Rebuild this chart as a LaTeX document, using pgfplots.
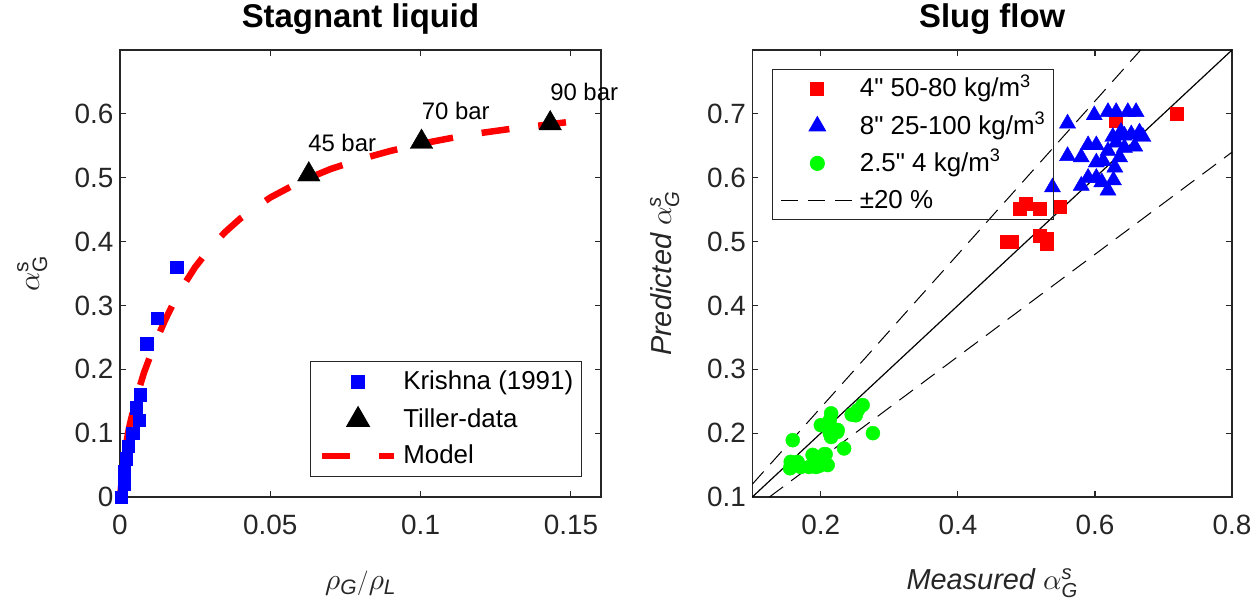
\documentclass[border=0pt]{standalone}
\usepackage{fontspec}
\setmainfont{Liberation Sans}[Ligatures=TeXOff]
\usepackage{amsmath}
\DeclareFontShape{OML}{cmm}{m}{it}{<->cmmi10}{}
\DeclareFontShape{OMS}{cmsy}{m}{n}{<->cmsy10}{}
\usepackage{pgfplots}
\pgfplotsset{compat=1.18}
\definecolor{axc}{RGB}{38,38,38}
\definecolor{mblue}{RGB}{0,0,255}
\definecolor{mred}{RGB}{255,0,0}
\definecolor{mgreen}{RGB}{0,255,0}
\pgfplotsset{
  mystyle/.style={
    scale only axis, clip=false,
    axis line style={axc, line width=1.1bp},
    tick style={axc, line width=1.1bp},
    tick align=inside, tick pos=both, major tick length=6bp,
    ticklabel style={font=\fontsize{28}{28}\selectfont, text=axc},
    xticklabel style={yshift=-15bp},
    yticklabel style={xshift=-3bp},
    label style={font=\fontsize{29}{29}\selectfont, text=axc},
    title style={font=\bfseries\fontsize{33}{33}\selectfont, anchor=base},
    legend cell align=left,
    legend image code/.code={\draw[mark repeat=2,mark phase=2,#1] plot coordinates {(0bp,0bp) (36bp,0bp) (72bp,0bp)};},
    legend style={font=\fontsize{26}{26}\selectfont, text=black, draw=axc, line width=1.1bp,
      fill=none, inner xsep=8bp,
      nodes={inner sep=0pt, text height=19bp, text depth=3bp},
      /tikz/every odd column/.append style={column sep=6bp}},
  }
}
\begin{document}
\begin{tikzpicture}
\path[use as bounding box] (0,0) rectangle (1260bp,606bp);
% ---------------- left axis
\begin{axis}[mystyle, at={(120bp,109bp)}, anchor=south west, width=481bp, height=447bp,
  xmin=0, xmax=0.16, ymin=0, ymax=0.7,
  xtick={0,0.05,0.1,0.15}, xticklabels={0,0.05,0.1,0.15},
  ytick={0,0.1,0.2,0.3,0.4,0.5,0.6}, yticklabels={0,0.1,0.2,0.3,0.4,0.5,0.6},
  title={Stagnant liquid}, title style={at={(axis description cs:0.5,1.038)}},
  xlabel={$\rho_{\textit{G}}/\rho_{\textit{L}}$},
  xlabel style={at={(axis description cs:0.5,-0.208)}, anchor=base, font=\fontsize{30}{30}\selectfont},
  ylabel={$\alpha^{\text{s}}_{\text{G}}$},
  ylabel style={at={(axis description cs:-0.168,0.5)}, anchor=base, font=\fontsize{30}{30}\selectfont},
  legend style={at={(axis description cs:0.96,0.045)}, anchor=south east, inner ysep=9.5bp,
    row sep=14bp},
]
\addplot[only marks, mark=square*, mark size=6.2bp, mblue, mark options={draw=mblue, fill=mblue}] coordinates {
(0.0004,0) (0.0013,0.02) (0.0013,0.04) (0.002,0.06) (0.0028,0.08) (0.0042,0.10)
(0.0063,0.12) (0.0053,0.14) (0.0067,0.16) (0.0089,0.24) (0.0124,0.28) (0.0189,0.36)};
\addlegendentry{Krishna (1991)}
\addplot[only marks, mark=triangle*, mark size=13bp, black, mark options={draw=black, fill=black}] coordinates {
(0.0628,0.505) (0.1003,0.556) (0.1431,0.585)};
\addlegendentry{Tiller-data}
\addplot[mred, line width=6.5bp, dash pattern=on 28bp off 29bp, line cap=butt] coordinates {
(0,0.0) (0.0005,0.022) (0.001,0.043) (0.0015,0.063) (0.002,0.082) (0.003,0.108)
(0.004,0.128) (0.005,0.146) (0.0067,0.175) (0.008,0.195) (0.01,0.220) (0.0125,0.250)
(0.015,0.277) (0.0175,0.301) (0.02,0.323) (0.025,0.360) (0.03,0.390) (0.035,0.415)
(0.04,0.436) (0.05,0.469) (0.06,0.494) (0.07,0.5135) (0.08,0.529) (0.09,0.542)
(0.10,0.553) (0.11,0.562) (0.12,0.570) (0.13,0.5765) (0.14,0.582) (0.15,0.5877) (0.154,0.589)};
\addlegendentry{Model}
\node[font=\fontsize{24}{24}\selectfont, text=black] at (axis cs:0.0739,0.555) {45 bar};
\node[font=\fontsize{24}{24}\selectfont, text=black] at (axis cs:0.1117,0.605) {70 bar};
\node[font=\fontsize{24}{24}\selectfont, text=black] at (axis cs:0.1544,0.635) {90 bar};
\end{axis}
% ---------------- right axis
\begin{axis}[mystyle, at={(752.3bp,109bp)}, anchor=south west, width=479.7bp, height=447bp,
  xmin=0.1, xmax=0.8, ymin=0.1, ymax=0.8,
  xtick={0.2,0.4,0.6,0.8}, xticklabels={0.2,0.4,0.6,0.8},
  ytick={0.1,0.2,0.3,0.4,0.5,0.6,0.7}, yticklabels={0.1,0.2,0.3,0.4,0.5,0.6,0.7},
  title={Slug flow}, title style={at={(axis description cs:0.5,1.038)}},
  xlabel={\itshape Measured $\alpha^{\text{s}}_{\text{G}}$},
  xlabel style={at={(axis description cs:0.5,-0.208)}, anchor=base},
  ylabel={\itshape Predicted $\alpha^{\text{s}}_{\text{G}}$},
  ylabel style={at={(axis description cs:-0.169,0.5)}, anchor=base},
  legend style={at={(axis description cs:0.0417,0.957)}, anchor=north west, inner ysep=8bp,
    row sep=15.3bp},
]
\addplot[only marks, mark=square*, mark size=6.5bp, mred, mark options={draw=mred, fill=mred}] coordinates {
(0.72,0.70) (0.63,0.69) (0.49,0.551) (0.4985,0.559) (0.519,0.551) (0.549,0.555)
(0.471,0.50) (0.479,0.50) (0.519,0.509) (0.529,0.505) (0.529,0.497)};
\addlegendentry{4" 50-80 kg/m\textsuperscript{3}}
\addplot[only marks, mark=triangle*, mark size=9.3bp, mblue, mark options={draw=mblue, fill=mblue}] coordinates {
(0.560,0.685) (0.599,0.698) (0.619,0.703) (0.631,0.703) (0.648,0.703) (0.660,0.703)
(0.560,0.634) (0.580,0.632) (0.590,0.651) (0.602,0.651) (0.538,0.585) (0.580,0.5875)
(0.619,0.58) (0.602,0.624) (0.612,0.626) (0.631,0.655) (0.643,0.666) (0.653,0.668)
(0.670,0.664) (0.629,0.616) (0.590,0.600) (0.610,0.593) (0.627,0.596) (0.636,0.632)
(0.643,0.647) (0.626,0.664) (0.602,0.600) (0.665,0.671) (0.638,0.672) (0.619,0.642)
(0.658,0.649)};
\addlegendentry{8" 25-100 kg/m\textsuperscript{3}}
\addplot[only marks, mark=*, mark size=7bp, mgreen, mark options={draw=mgreen, fill=mgreen}] coordinates {
(0.159,0.189) (0.254,0.236) (0.261,0.244) (0.251,0.228) (0.276,0.200) (0.215,0.231)
(0.213,0.220) (0.200,0.2125) (0.2245,0.205) (0.215,0.194) (0.234,0.176) (0.188,0.166)
(0.156,0.155) (0.155,0.145) (0.171,0.147) (0.183,0.147) (0.198,0.155) (0.210,0.150)
(0.205,0.167) (0.193,0.147) (0.166,0.155) (0.245,0.229) (0.213,0.200) (0.224,0.202)
(0.198,0.149) (0.207,0.167)};
\addlegendentry{2.5" 4 kg/m\textsuperscript{3}}
\addplot[black, line width=1bp, dash pattern=on 17bp off 10bp] coordinates {(0.1,0.12) (0.6667,0.8)};
\addlegendentry{±20 \%}
\addplot[black, line width=1bp, dash pattern=on 17bp off 10bp, forget plot] coordinates {(0.125,0.1) (0.8,0.64)};
\addplot[black, line width=1.2bp, forget plot] coordinates {(0.1,0.1) (0.8,0.8)};
\end{axis}
\end{tikzpicture}
\end{document}
